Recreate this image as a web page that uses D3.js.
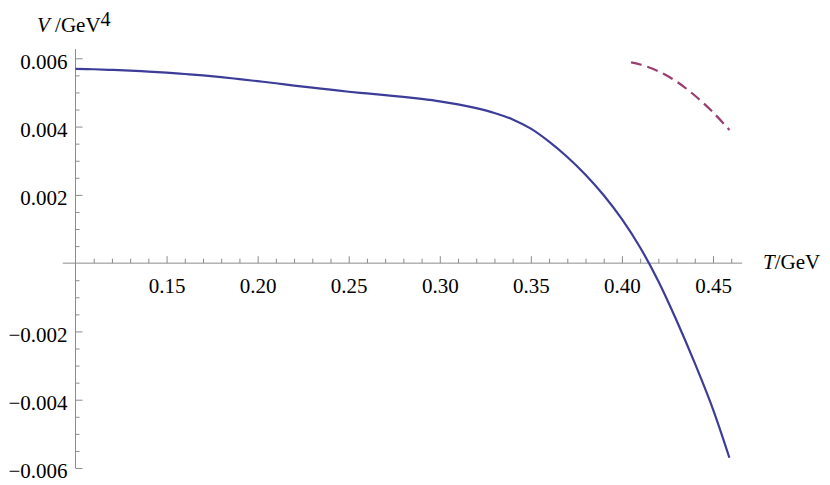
<!DOCTYPE html>
<html>
<head>
<meta charset="utf-8">
<script src="https://cdn.jsdelivr.net/npm/d3@7"></script>
<style>
  body { margin: 0; background: #fff; }
  svg text { font-family: "Liberation Serif", "Times New Roman", serif; }
  .axis line { stroke: #8c8c8c; }
</style>
</head>
<body>
<svg width="830" height="485"></svg>
<script>
// temperatures (GeV) and potential values (GeV^4)
var tSolid = [0.10, 0.11, 0.12, 0.13, 0.14, 0.15, 0.16, 0.17, 0.18, 0.19,
              0.20, 0.21, 0.22, 0.23, 0.24, 0.25, 0.26, 0.27, 0.28, 0.29,
              0.30, 0.31, 0.32, 0.33, 0.34, 0.35, 0.36, 0.37, 0.38, 0.39,
              0.40, 0.41, 0.42, 0.43, 0.44, 0.45, 0.459];
var vSolid = [0.00569, 0.00568, 0.00566, 0.00564, 0.00561, 0.00558, 0.00554, 0.00550, 0.00545, 0.00539,
              0.00533, 0.00527, 0.00520, 0.00514, 0.00508, 0.00502, 0.00497, 0.00492, 0.00487, 0.00481,
              0.00474, 0.00465, 0.00454, 0.00440, 0.00421, 0.00394, 0.00356, 0.00311, 0.00259, 0.00199,
              0.00129, 0.00046, -0.00053, -0.00168, -0.00293, -0.00428, -0.00570];

var tDashed = [0.405, 0.41, 0.42, 0.43, 0.44, 0.45, 0.459];
var vDashed = [0.00588, 0.00582, 0.00562, 0.00532, 0.00491, 0.00442, 0.00390];

var xMajor = [0.15, 0.20, 0.25, 0.30, 0.35, 0.40, 0.45];
var xMinor = [0.11, 0.12, 0.13, 0.14, 0.16, 0.17, 0.18, 0.19, 0.21, 0.22, 0.23, 0.24,
              0.26, 0.27, 0.28, 0.29, 0.31, 0.32, 0.33, 0.34, 0.36, 0.37, 0.38, 0.39,
              0.41, 0.42, 0.43, 0.44, 0.46];
var yMajor = [-0.006, -0.004, -0.002, 0.002, 0.004, 0.006];
var yMinor = [-0.0055, -0.005, -0.0045, -0.0035, -0.003, -0.0025, -0.0015, -0.001, -0.0005,
              0.0005, 0.001, 0.0015, 0.0025, 0.003, 0.0035, 0.0045, 0.005, 0.0055];

var svg = d3.select("svg"),
    fontSize = 21,
    serif = "'Liberation Serif', 'Times New Roman', serif";

var x = d3.scaleLinear().domain([0.1, 0.45]).range([75.5, 713]),
    y = d3.scaleLinear().domain([-0.006, 0.006]).range([468, 58.3]);

var line = d3.line()
  .curve(d3.curveCatmullRom)
  .x(function(d) { return x(d[0]); })
  .y(function(d) { return y(d[1]); });

// axis lines
svg.append("line")
  .attr("x1", x(0.093)).attr("x2", x(0.466))
  .attr("y1", y(0)).attr("y2", y(0))
  .attr("stroke", "#8c8c8c");
svg.append("line")
  .attr("x1", x(0.1)).attr("x2", x(0.1))
  .attr("y1", y(0.00627)).attr("y2", y(-0.006))
  .attr("stroke", "#8c8c8c");

// x axis ticks (pointing up), labels below
svg.append("g")
  .attr("class", "axis")
  .attr("transform", "translate(0," + y(0) + ")")
  .call(d3.axisBottom(x).tickValues(xMajor).tickSizeInner(-7).tickSizeOuter(0)
    .tickPadding(15).tickFormat(d3.format(".2f")));
svg.append("g")
  .attr("class", "axis")
  .attr("transform", "translate(0," + y(0) + ")")
  .call(d3.axisBottom(x).tickValues(xMinor).tickSizeInner(-4.5).tickSizeOuter(0).tickFormat(""));

// y axis ticks (pointing right), labels left
var gy = svg.append("g")
  .attr("class", "axis")
  .attr("transform", "translate(" + x(0.1) + ",0)")
  .call(d3.axisLeft(y).tickValues(yMajor).tickSizeInner(-7).tickSizeOuter(0)
    .tickPadding(8).tickFormat(d3.format(".3f")));
svg.append("g")
  .attr("class", "axis")
  .attr("transform", "translate(" + x(0.1) + ",0)")
  .call(d3.axisLeft(y).tickValues(yMinor).tickSizeInner(-4).tickSizeOuter(0).tickFormat(""));

svg.selectAll(".axis .domain").remove();
svg.selectAll(".axis")
  .attr("font-family", serif)
  .attr("font-size", fontSize);
svg.selectAll(".axis text")
  .attr("fill", "#000")
  .attr("font-family", serif)
  .attr("font-size", fontSize);
gy.selectAll("text").attr("dy", "0.47em");

// curves
svg.append("path")
  .datum(d3.zip(tSolid, vSolid))
  .attr("fill", "none")
  .attr("stroke", "#3d3d99")
  .attr("stroke-width", 2.2)
  .attr("d", line);

svg.append("path")
  .datum(d3.zip(tDashed, vDashed))
  .attr("fill", "none")
  .attr("stroke", "#993d71")
  .attr("stroke-width", 2.2)
  .attr("stroke-dasharray", "11,6")
  .attr("d", line);

// axis labels
var yl = svg.append("text")
  .attr("x", 37).attr("y", 32)
  .attr("font-family", serif)
  .attr("font-size", fontSize);
yl.append("tspan").style("font-style", "italic").text("V");
yl.append("tspan").text(" /GeV");
yl.append("tspan").attr("dy", -6).attr("font-size", 20).text("4");

var xl = svg.append("text")
  .attr("x", 763).attr("y", 269)
  .attr("font-family", serif)
  .attr("font-size", fontSize);
xl.append("tspan").style("font-style", "italic").text("T");
xl.append("tspan").text("/GeV");
</script>
</body>
</html>
